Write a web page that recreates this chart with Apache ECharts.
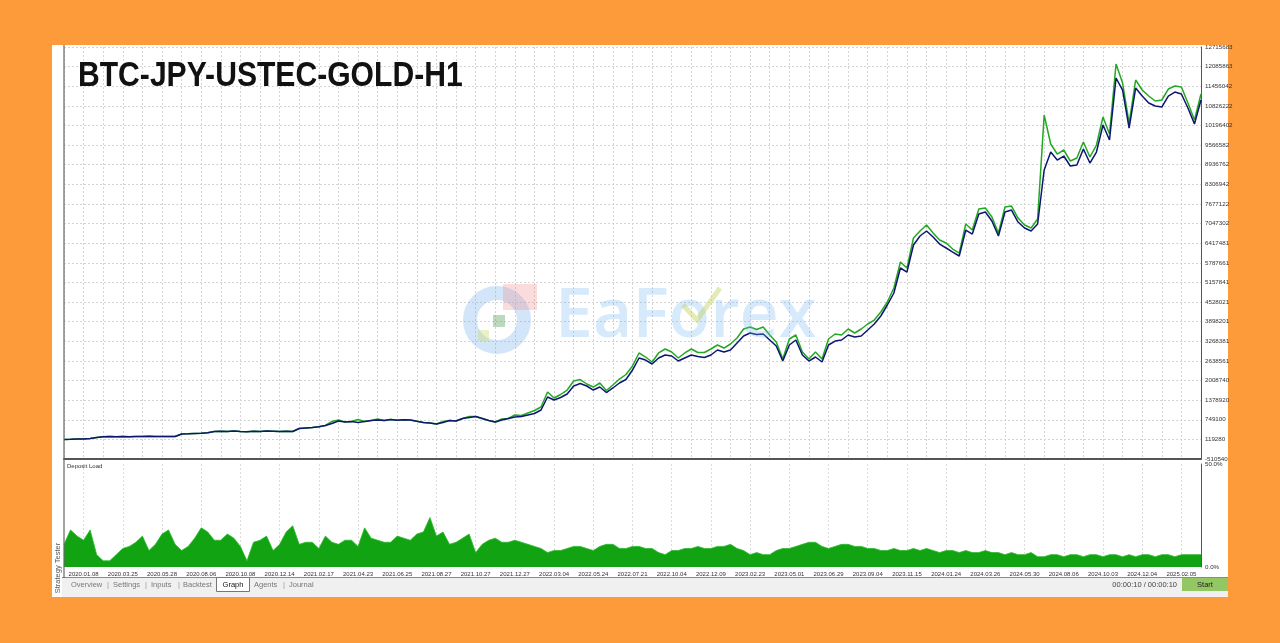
<!DOCTYPE html>
<html>
<head>
<meta charset="utf-8">
<title>BTC-JPY-USTEC-GOLD-H1</title>
<script src="https://cdn.jsdelivr.net/npm/echarts@6.0.0/dist/echarts.min.js"></script>
<style>
  html, body { margin: 0; padding: 0; background: #fd9a3a; }
  #chart { width: 1280px; height: 643px; }
</style>
</head>
<body>
<div id="chart"></div>
<script>
// date labels along the bottom (one every 6 points)
const xLabels = ['2020.01.08', '2020.03.25', '2020.05.28', '2020.08.06', '2020.10.08', '2020.12.14',
  '2021.02.17', '2021.04.23', '2021.06.25', '2021.08.27', '2021.10.27', '2021.12.27',
  '2022.03.04', '2022.05.24', '2022.07.21', '2022.10.04', '2022.12.09', '2023.02.23',
  '2023.05.01', '2023.06.29', '2023.09.04', '2023.11.15', '2024.01.24', '2024.03.26',
  '2024.05.30', '2024.08.06', '2024.10.03', '2024.12.04', '2025.02.05'];

// right axis labels, bottom to top
const yTickLabels = ['-510540', '119280', '749100', '1378920', '2008740', '2638561', '3268381',
  '3898201', '4528021', '5157841', '5787661', '6417481', '7047302', '7677122', '8306942',
  '8936762', '9566582', '10196402', '10826222', '11456042', '12085863', '12715683'];
const yMin = -510540;
const yStep = 629820;

const balance = [
  115000, 122000, 131000, 131000, 148000, 180000, 202000, 209000, 202000, 212000,
  205000, 215000, 209000, 218000, 212000, 215000, 209000, 212000, 292000, 298000,
  308000, 318000, 330000, 372000, 382000, 369000, 388000, 375000, 363000, 382000,
  372000, 388000, 379000, 369000, 382000, 372000, 469000, 485000, 501000, 523000,
  565000, 629000, 709000, 677000, 693000, 661000, 693000, 725000, 741000, 725000,
  757000, 732000, 748000, 741000, 700000, 661000, 645000, 613000, 661000, 725000,
  709000, 790000, 822000, 854000, 790000, 725000, 677000, 741000, 790000, 838000,
  854000, 902000, 950000, 1062000, 1480000, 1383000, 1464000, 1576000, 1833000, 1913000,
  1833000, 1704000, 1801000, 1624000, 1769000, 1929000, 2041000, 2346000, 2732000, 2667000,
  2539000, 2732000, 2828000, 2796000, 2635000, 2732000, 2828000, 2780000, 2748000, 2828000,
  2988000, 2924000, 2988000, 3213000, 3438000, 3534000, 3486000, 3502000, 3309000, 3117000,
  2635000, 3149000, 3309000, 2828000, 2635000, 2764000, 2603000, 3149000, 3277000, 3309000,
  3470000, 3406000, 3438000, 3630000, 3823000, 4080000, 4433000, 4818000, 5621000, 5492000,
  6359000, 6648000, 6808000, 6616000, 6391000, 6263000, 6134000, 6006000, 6840000, 6712000,
  7354000, 7418000, 7129000, 6648000, 7418000, 7482000, 7097000, 6905000, 6808000, 7033000,
  8766000, 9344000, 9087000, 9216000, 8895000, 8927000, 9440000, 8991000, 9344000, 10211000,
  9729000, 11720000, 11334000, 10115000, 11399000, 11142000, 10917000, 10821000, 10789000, 11142000,
  11270000, 11206000, 10757000, 10243000, 11013000
];

const equity = [
  115000, 122000, 131000, 131000, 148000, 180000, 202000, 209000, 202000, 212000,
  205000, 215000, 209000, 218000, 212000, 215000, 209000, 212000, 292000, 298000,
  308000, 318000, 330000, 372000, 382000, 369000, 388000, 375000, 363000, 382000,
  372000, 388000, 379000, 369000, 382000, 372000, 469000, 485000, 501000, 523000,
  565000, 693000, 741000, 677000, 693000, 757000, 693000, 725000, 773000, 725000,
  757000, 732000, 748000, 741000, 700000, 661000, 645000, 613000, 693000, 725000,
  709000, 790000, 854000, 854000, 790000, 725000, 677000, 773000, 790000, 902000,
  886000, 966000, 1046000, 1158000, 1641000, 1447000, 1560000, 1704000, 1994000, 2041000,
  1897000, 1800000, 1929000, 1688000, 1865000, 2057000, 2202000, 2474000, 2893000, 2763000,
  2603000, 2893000, 3021000, 2924000, 2731000, 2893000, 3021000, 2908000, 2909000, 3021000,
  3149000, 3052000, 3181000, 3374000, 3663000, 3727000, 3647000, 3727000, 3470000, 3245000,
  2699000, 3342000, 3470000, 2924000, 2699000, 2925000, 2699000, 3342000, 3502000, 3470000,
  3663000, 3534000, 3663000, 3823000, 3951000, 4208000, 4529000, 4979000, 5814000, 5620000,
  6584000, 6809000, 7001000, 6744000, 6519000, 6424000, 6230000, 6102000, 7033000, 6840000,
  7515000, 7546000, 7257000, 6744000, 7579000, 7610000, 7225000, 7001000, 6904000, 7194000,
  10532000, 9601000, 9280000, 9409000, 9056000, 9152000, 9665000, 9184000, 9569000, 10468000,
  9922000, 12169000, 11559000, 10276000, 11656000, 11335000, 11142000, 10982000, 11014000, 11367000,
  11463000, 11431000, 10918000, 10371000, 11206000
];

// deposit load, percent
const depositLoad = [
  11, 18, 15, 13, 18, 6, 3, 3, 6, 9,
  10, 12, 15, 8, 11, 16, 18, 11, 8, 10,
  14, 19, 17, 13, 13, 16, 14, 10, 3, 12,
  13, 15, 8, 11, 17, 20, 11, 12, 12, 9,
  15, 12, 11, 13, 13, 10, 19, 14, 13, 12,
  12, 15, 14, 13, 16, 17, 24, 15, 17, 11,
  12, 14, 16, 7, 11, 13, 14, 12, 12, 13,
  12, 11, 10, 9, 7, 8, 8, 9, 10, 10,
  9, 8, 10, 11, 11, 9, 9, 10, 10, 9,
  9, 7, 6, 8, 8, 9, 9, 10, 9, 9,
  10, 10, 11, 9, 8, 6, 7, 6, 6, 8,
  9, 9, 10, 11, 12, 12, 10, 9, 10, 11,
  11, 10, 10, 9, 9, 8, 8, 9, 8, 8,
  9, 8, 9, 8, 7, 8, 8, 7, 8, 7,
  7, 8, 7, 7, 6, 7, 6, 6, 7, 5,
  5, 6, 6, 5, 6, 6, 5, 6, 6, 5,
  6, 6, 5, 6, 5, 6, 6, 5, 6, 6,
  5, 6, 6, 6, 6
];

const categories = balance.map((v, i) => String(i));
const smallFont = '"Liberation Sans", sans-serif';
const tabFont = '7.5px "Liberation Sans", sans-serif';
const gridDots = { color: '#d4d4d4', width: 1, type: [2, 2] };

const chart = echarts.init(document.getElementById('chart'));

const option = {
  animation: false,
  backgroundColor: '#fd9a3a',
  grid: [
    { left: 64, right: 79, top: 47, height: 412 },
    { left: 64, right: 79, top: 464, height: 103 }
  ],
  xAxis: [
    {
      type: 'category', gridIndex: 0, data: categories, boundaryGap: false,
      axisLine: { show: true, onZero: false, lineStyle: { color: '#555', width: 2 } },
      axisTick: { show: false },
      axisLabel: { show: false },
      splitLine: { show: true, interval: (i) => i % 3 === 0, lineStyle: gridDots }
    },
    {
      type: 'category', gridIndex: 1, data: categories, boundaryGap: false,
      axisLine: { show: false, onZero: false },
      axisTick: { show: false },
      axisLabel: {
        interval: (i) => (i - 3) % 6 === 0,
        formatter: (v, i) => xLabels[(i - 3) / 6] || '',
        fontFamily: smallFont, fontSize: 6, color: '#333', margin: 4
      },
      splitLine: { show: true, interval: (i) => (i - 3) % 6 === 0, lineStyle: { color: '#dcdcdc', width: 1, type: [2, 2] } }
    }
  ],
  yAxis: [
    {
      type: 'value', gridIndex: 0, position: 'right',
      min: yMin, max: yMin + yStep * (yTickLabels.length - 1), interval: yStep,
      axisLine: { show: true, lineStyle: { color: '#555', width: 1 } },
      axisTick: { show: false },
      axisLabel: {
        formatter: (v) => yTickLabels[Math.round((v - yMin) / yStep)] || '',
        fontFamily: smallFont, fontSize: 6.2, color: '#333', margin: 4
      },
      splitLine: { show: true, lineStyle: gridDots }
    },
    {
      type: 'value', gridIndex: 1, position: 'right',
      min: 0, max: 50, interval: 50,
      axisLine: { show: true, lineStyle: { color: '#555', width: 1 } },
      axisTick: { show: false },
      axisLabel: {
        formatter: (v) => v.toFixed(1) + '%',
        fontFamily: smallFont, fontSize: 6.2, color: '#333', margin: 4
      },
      splitLine: { show: false }
    }
  ],
  series: [
    {
      name: 'Equity', type: 'line', xAxisIndex: 0, yAxisIndex: 0, data: equity,
      symbol: 'none', lineStyle: { color: '#22a822', width: 1.5 }, z: 3
    },
    {
      name: 'Balance', type: 'line', xAxisIndex: 0, yAxisIndex: 0, data: balance,
      symbol: 'none', lineStyle: { color: '#0d1670', width: 1.5 }, z: 4
    },
    {
      name: 'Deposit Load', type: 'line', xAxisIndex: 1, yAxisIndex: 1, data: depositLoad,
      symbol: 'none', lineStyle: { color: '#2cb82c', width: 0.8 },
      areaStyle: { color: '#12a312', opacity: 1 }, z: 3
    }
  ],
  graphic: [
    // white tester window
    { type: 'rect', z: -100, silent: true, shape: { x: 52, y: 45, width: 1176, height: 552 }, style: { fill: '#ffffff' } },
    // tab bar
    { type: 'rect', z: -90, silent: true, shape: { x: 62, y: 578, width: 1166, height: 19 }, style: { fill: '#f0f0f0' } },
    { type: 'line', z: 5, silent: true, shape: { x1: 62, y1: 577.5, x2: 1228, y2: 577.5 }, style: { stroke: '#8a8a8a', lineWidth: 1 } },
    { type: 'line', z: 5, silent: true, shape: { x1: 64, y1: 45, x2: 64, y2: 578 }, style: { stroke: '#666', lineWidth: 1.2 } },
    // vertical caption
    {
      type: 'text', z: 5, x: 58, y: 568, rotation: Math.PI / 2,
      style: { text: 'Strategy Tester', font: tabFont, fill: '#555', align: 'center', verticalAlign: 'middle' }
    },
    { type: 'text', z: 5, style: { text: 'Deposit Load', x: 67, y: 466, font: '6px "Liberation Sans", sans-serif', fill: '#333', verticalAlign: 'middle' } },
    // tabs
    { type: 'text', z: 5, style: { text: 'Overview', x: 71, y: 585, font: tabFont, fill: '#777', verticalAlign: 'middle' } },
    { type: 'text', z: 5, style: { text: '|', x: 107, y: 585, font: tabFont, fill: '#999', verticalAlign: 'middle' } },
    { type: 'text', z: 5, style: { text: 'Settings', x: 113, y: 585, font: tabFont, fill: '#777', verticalAlign: 'middle' } },
    { type: 'text', z: 5, style: { text: '|', x: 145, y: 585, font: tabFont, fill: '#999', verticalAlign: 'middle' } },
    { type: 'text', z: 5, style: { text: 'Inputs', x: 151, y: 585, font: tabFont, fill: '#777', verticalAlign: 'middle' } },
    { type: 'text', z: 5, style: { text: '|', x: 178, y: 585, font: tabFont, fill: '#999', verticalAlign: 'middle' } },
    { type: 'text', z: 5, style: { text: 'Backtest', x: 183, y: 585, font: tabFont, fill: '#777', verticalAlign: 'middle' } },
    { type: 'rect', z: 5, shape: { x: 216.5, y: 577.5, width: 33, height: 14 }, style: { fill: '#ffffff', stroke: '#777', lineWidth: 1 } },
    { type: 'text', z: 6, style: { text: 'Graph', x: 233, y: 585, font: tabFont, fill: '#111', align: 'center', verticalAlign: 'middle' } },
    { type: 'text', z: 5, style: { text: 'Agents', x: 254, y: 585, font: tabFont, fill: '#777', verticalAlign: 'middle' } },
    { type: 'text', z: 5, style: { text: '|', x: 283, y: 585, font: tabFont, fill: '#999', verticalAlign: 'middle' } },
    { type: 'text', z: 5, style: { text: 'Journal', x: 289, y: 585, font: tabFont, fill: '#777', verticalAlign: 'middle' } },
    { type: 'text', z: 5, style: { text: '00:00:10 / 00:00:10', x: 1177, y: 585, font: tabFont, fill: '#444', align: 'right', verticalAlign: 'middle' } },
    { type: 'rect', z: 5, shape: { x: 1182, y: 578, width: 46, height: 13 }, style: { fill: '#93c764' } },
    { type: 'text', z: 6, style: { text: 'Start', x: 1205, y: 585, font: tabFont, fill: '#222', align: 'center', verticalAlign: 'middle' } },
    // title, squeezed horizontally like the condensed original
    {
      type: 'text', z: 20, x: 78, y: 76, scaleX: 0.86,
      style: {
        text: 'BTC-JPY-USTEC-GOLD-H1', x: 0, y: 0,
        font: 'bold 35px "Liberation Sans", sans-serif', fill: '#111', verticalAlign: 'middle',
        shadowBlur: 6, shadowColor: 'rgba(0,0,0,0.55)', shadowOffsetX: 3, shadowOffsetY: 3
      }
    },
    // watermark
    { type: 'circle', z: 20, silent: true, shape: { cx: 497, cy: 320, r: 27 }, style: { fill: 'none', stroke: 'rgba(110,170,235,0.3)', lineWidth: 14 } },
    { type: 'rect', z: 21, silent: true, shape: { x: 503, y: 284, width: 34, height: 26 }, style: { fill: 'rgba(240,140,140,0.3)' } },
    { type: 'rect', z: 21, silent: true, shape: { x: 493, y: 315, width: 12, height: 12 }, style: { fill: 'rgba(90,160,90,0.4)' } },
    { type: 'rect', z: 21, silent: true, shape: { x: 478, y: 330, width: 11, height: 11 }, style: { fill: 'rgba(200,220,120,0.4)' } },
    { type: 'text', z: 20, silent: true, style: { text: 'EaForex', x: 555, y: 318, font: '600 68px "Open Sans", sans-serif', fill: 'rgba(110,180,240,0.28)', verticalAlign: 'middle' } },
    { type: 'polyline', z: 21, silent: true, shape: { points: [[683, 305], [697, 320], [720, 288]] }, style: { fill: 'none', stroke: 'rgba(190,210,90,0.45)', lineWidth: 5 } }
  ]
};

chart.setOption(option);
</script>
</body>
</html>
